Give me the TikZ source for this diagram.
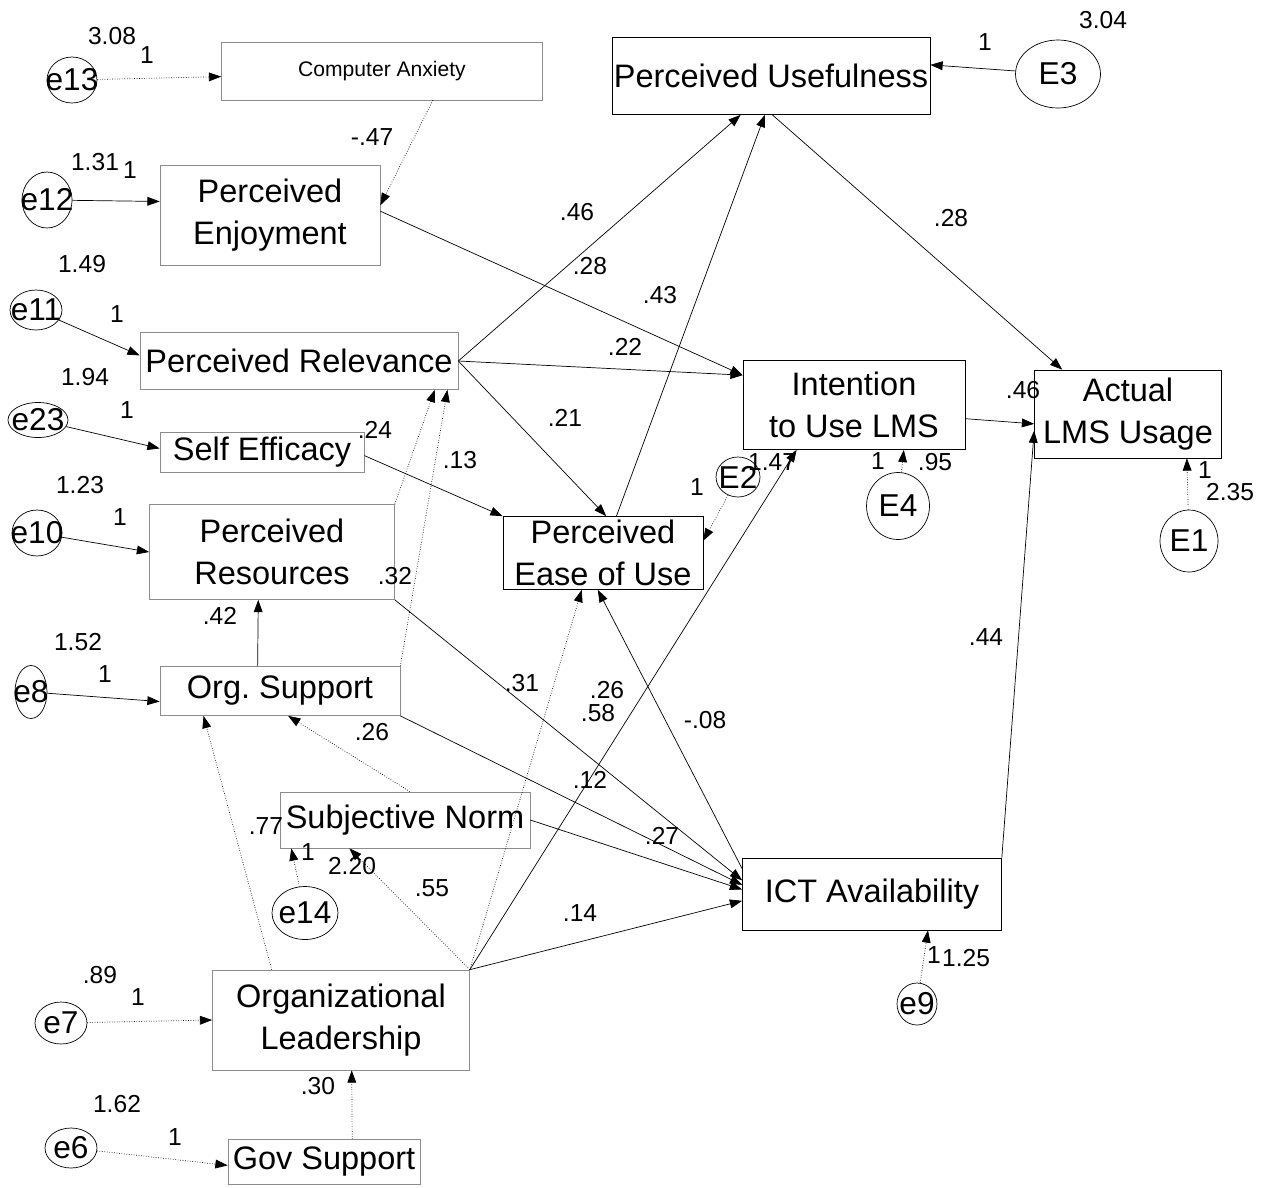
\documentclass[tikz,border=0pt]{standalone}
\usepackage{fontspec}
\setmainfont{Liberation Sans}
\usepackage{tikz}
\usetikzlibrary{arrows.meta, shapes.geometric}

\begin{document}
\begin{tikzpicture}[
        x=0.02cm, y=-0.02cm,
        box/.style={draw, rectangle, align=center, inner sep=1pt, font=\fontsize{18.5}{24}\selectfont},
        faintbox/.style={box, draw=black!45},
        err/.style n args={3}{draw, ellipse, inner sep=0pt, minimum width=#1cm, minimum height=#2cm,
            label={[font=\fontsize{18}{20}\selectfont]center:#3}},
        arrow/.style={-{Triangle[length=7pt, width=5pt]}, thin},
        faint/.style={arrow, densely dotted},
        lbl/.style={font=\fontsize{14}{16}\selectfont, inner sep=0pt}
    ]
        \useasboundingbox (0,0) rectangle (1267,1187);

        % Nodes
        \node[faintbox, minimum width=6.42cm, minimum height=1.16cm, font=\fontsize{12}{14}\selectfont] (anxiety) at (382,71) {Computer Anxiety};
        \node[box, minimum width=6.36cm, minimum height=1.54cm] (useful) at (771,76) {Perceived Usefulness};
        \node[faintbox, minimum width=4.4cm, minimum height=2cm] (enjoy) at (270,215) {Perceived\\Enjoyment};
        \node[faintbox, minimum width=6.36cm, minimum height=1.14cm] (relev) at (299,361) {Perceived Relevance};
        \node[faintbox, minimum width=4.08cm, minimum height=0.8cm] (efficacy) at (262,452) {Self Efficacy};
        \node[faintbox, minimum width=4.9cm, minimum height=1.9cm] (resources) at (272,552) {Perceived\\Resources};
        \node[faintbox, minimum width=4.8cm, minimum height=0.98cm] (orgsup) at (280,691) {Org.\ Support};
        \node[faintbox, minimum width=5cm, minimum height=1.12cm] (norm) at (405,820) {Subjective Norm};
        \node[faintbox, minimum width=5.14cm, minimum height=2cm] (leader) at (341,1020) {Organizational\\Leadership};
        \node[faintbox, minimum width=3.84cm, minimum height=0.9cm] (gov) at (324,1162) {Gov Support};
        \node[box, minimum width=4cm, minimum height=1.46cm] (ease) at (603,553) {Perceived\\Ease of Use};
        \node[box, minimum width=4.44cm, minimum height=1.78cm] (intent) at (854,405) {Intention\\to Use LMS};
        \node[box, minimum width=3.74cm, minimum height=1.76cm] (usage) at (1128,414) {Actual\\LMS Usage};
        \node[box, minimum width=5.18cm, minimum height=1.44cm] (ict) at (872,894) {ICT Availability};

        % Error terms
        \node[err={1.0}{0.92}{e13}] (e13) at (72,80) {};
        \node[err={1.0}{1.12}{e12}] (e12) at (47,200) {};
        \node[err={1.04}{0.8}{e11}] (e11) at (36,310) {};
        \node[err={1.2}{0.7}{e23}] (e23) at (38,420) {};
        \node[err={1.0}{0.92}{e10}] (e10) at (37,533) {};
        \node[err={0.64}{1.06}{e8}] (e8) at (31,692) {};
        \node[err={1.04}{0.84}{e7}] (e7) at (61,1023) {};
        \node[err={1.04}{0.8}{e6}] (e6) at (71,1148) {};
        \node[err={1.32}{1.06}{e14}] (e14) at (305,913) {};
        \node[err={1.7}{1.36}{E3}] (E3) at (1058,74) {};
        \node[err={0.88}{0.8}{E2}] (E2) at (738,477) {};
        \node[err={1.26}{1.34}{E4}] (E4) at (898,506) {};
        \node[err={1.16}{1.24}{E1}] (E1) at (1189,541) {};
        \node[err={0.8}{0.84}{e9}] (e9) at (917,1004) {};

        % Arrows from error terms
        \draw[faint] (e13) -- (anxiety.182);
        \draw[arrow] (e12) -- (enjoy.173);
        \draw[arrow] (e11) -- (relev.178);
        \draw[arrow] (e23) -- (efficacy.178);
        \draw[arrow] (e10) -- (resources.west);
        \draw[arrow] (e8) -- (orgsup.185);
        \draw[faint] (e7) -- (leader.west);
        \draw[faint] (e6) -- (gov.182);
        \draw[arrow] (E3) -- (useful.4);
        \draw[faint] (E2) -- (ease.7);
        \draw[faint] (E4) -- (intent.-42);
        \draw[faint] (E1) -- (usage.-37);
        \draw[faint] (e9) -- (ict.-33);
        \draw[faint] (e14) -- (norm.194);

        % Arrows between constructs
        \draw[faint] (anxiety.-30) -- (enjoy.5);
        \draw[arrow] (enjoy.2) -- (intent.165);
        \draw[arrow] (relev.east) -- (useful.232);
        \draw[arrow] (relev.east) -- (intent.165);
        \draw[arrow] (relev.east) -- (ease.85);
        \draw[faint] (resources.north east) -- (relev.-12);
        \draw[faint] (orgsup.north east) -- (relev.-11.5);
        \draw[arrow] (efficacy.-2) -- (ease.north west);
        \draw[arrow] (ease.70) -- (useful.261);
        \draw[arrow] (useful.272) -- (usage.146);
        \draw[arrow] (intent.-7) -- (usage.186);
        \draw[arrow] (ict.north east) -- (usage.190);
        \draw[arrow] (ict.169) -- (ease.262);
        \draw[faint] (leader.north east) -- (ease.240);
        \draw[arrow] (leader.north east) -- (intent.218);
        \draw[arrow] (leader.north east) -- (ict.183);
        \draw[faint] (leader.north east) -- (norm.207);
        \draw[faint] (leader.144) -- (orgsup.198);
        \draw[faint] (norm.80) -- (orgsup.-72);
        \draw[arrow] (norm.east) -- (ict.178);
        \draw[arrow] (orgsup.south east) -- (ict.176);
        \draw[arrow] (resources.south east) -- (ict.174);
        \draw[arrow] (orgsup.132) -- (resources.254);
        \draw[faint] (gov.39) -- (leader.-78);

        % Labels
        \foreach \px/\py/\txt [count=\i] in {
            112/36/3.08, 147/55/1, 372/137/-.47, 95/162/1.31, 130/170/1,
            82/264/1.49, 117/314/1, 85/377/1.94, 127/410/1, 80/485/1.23,
            120/517/1, 375/430/.24, 460/460/.13, 395/576/.32, 220/616/.42,
            78/642/1.52, 105/674/1, 372/732/.26, 266/826/.77, 308/852/1,
            352/866/2.20, 432/888/.55, 100/975/.89, 138/997/1, 318/1086/.30,
            117/1104/1.62, 175/1137/1, 577/212/.46, 590/266/.28, 660/295/.43,
            951/218/.28, 625/347/.22, 565/418/.21, 772/462/1.47, 697/487/1,
            878/461/1, 935/462/.95, 1023/390/.46, 1205/470/1, 1230/492/2.35,
            1103/20/3.04, 985/42/1, 522/683/.31, 607/690/.26, 598/713/.58,
            705/720/-.08, 590/780/.12, 662/836/.27, 580/913/.14, 986/637/.44,
            934/955/1, 966/958/1.25}
            \node[lbl] (lab\i) at (\px,\py) {\txt};
    \end{tikzpicture}
\end{document}
